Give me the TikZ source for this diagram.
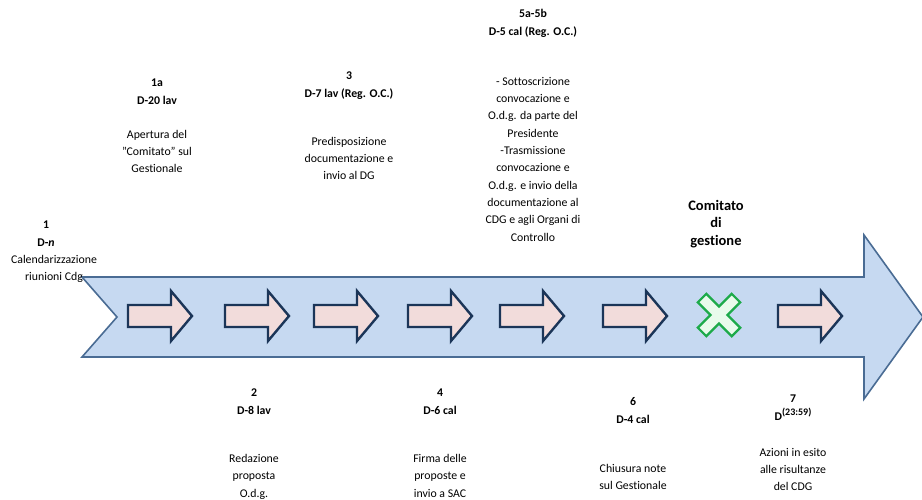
\documentclass[tikz,border=0pt]{standalone}
\usepackage{fontspec}
\setmainfont{Carlito}[Ligatures=NoCommon]
\definecolor{flowfill}{HTML}{C6D9F1}
\definecolor{flowline}{HTML}{4A6C94}
\definecolor{stepfill}{HTML}{F2DCDB}
\definecolor{stepline}{HTML}{1B3558}
\definecolor{crossfill}{HTML}{E9FBEC}
\definecolor{crossline}{HTML}{1DAA4A}
\begin{document}
\begin{tikzpicture}[
    x=1pt, y=-1pt,
    flow/.style={
        draw=flowline,
        fill=flowfill,
        line width=1.6pt,
        line join=miter
    },
    stepshape/.style={
        draw=stepline,
        fill=stepfill,
        line width=2.4pt,
        line join=miter
    },
    donecross/.style={
        draw=crossline,
        fill=crossfill,
        line width=2.2pt
    },
    header/.style={
        font=\fontsize{11.8}{18}\selectfont\bfseries,
        align=center,
        anchor=north,
        inner sep=0pt
    },
    note/.style={
        font=\fontsize{11.8}{17.3}\selectfont,
        align=center,
        anchor=north,
        inner sep=0pt
    },
    meeting/.style={
        font=\fontsize{14.5}{17.5}\selectfont\bfseries,
        align=center,
        anchor=north,
        inner sep=0pt
    }
]
    \useasboundingbox (0,0) rectangle (922,499);

    % timeline
    \draw[flow] (82,277) -- (864,277) -- (864,235) -- (923,317) -- (864,399)
        -- (864,357) -- (82,357) -- (117,317) -- cycle;

    % steps
    \foreach \x in {128,225,314,408,500,603,778} {
        \draw[stepshape, shift={(\x,316)}] (0,-11) -- (43,-11) -- (43,-25)
            -- (64,0) -- (43,25) -- (43,11) -- (0,11) -- cycle;
    }

    % meeting
    \draw[donecross, shift={(719,315)}, rotate=45] (6,6) -- (6,24) -- (-6,24)
        -- (-6,6) -- (-24,6) -- (-24,-6) -- (-6,-6) -- (-6,-24) -- (6,-24)
        -- (6,-6) -- (24,-6) -- (24,6) -- cycle;
    \node[meeting] (cdg) at (716,200) {Comitato\\di\\gestione};

    % labels above
    \node[header] (h1) at (46,221) {1\\D-\textit{n}};
    \node[note] (t1) at (54,255) {Calendarizzazione\\riunioni Cdg};
    \foreach \name/\x/\y/\yy/\head/\text in {
        1a/157/79/130/{1a\\D-20 lav}/{Apertura del\\"Comitato" sul\\Gestionale},
        3/349/72/137/{3\\D-7 lav (Reg. O.C.)}/{Predisposizione\\documentazione e\\invio al DG},
        5/533/9/77/{5a-5b\\D-5 cal (Reg. O.C.)}/{- Sottoscrizione\\convocazione e\\O.d.g. da parte del\\Presidente\\-Trasmissione\\convocazione e\\O.d.g. e invio della\\documentazione al\\CDG e agli Organi di\\Controllo}%
    } {
        \node[header] (h\name) at (\x,\y) {\head};
        \node[note] (t\name) at (\x,\yy) {\text};
    }

    % labels below
    \foreach \name/\x/\y/\yy/\head/\text in {
        2/254/389/454/{2\\D-8 lav}/{Redazione\\proposta\\O.d.g.},
        4/440/389/454/{4\\D-6 cal}/{Firma delle\\proposte e\\invio a SAC},
        6/633/397/464/{6\\D-4 cal}/{Chiusura note\\sul Gestionale},
        7/793/395/448/{7\\D\raisebox{5pt}{\fontsize{10}{10}\selectfont(23:59)}}/{Azioni in esito\\alle risultanze\\del CDG}%
    } {
        \node[header] (h\name) at (\x,\y) {\head};
        \node[note] (t\name) at (\x,\yy) {\text};
    }
\end{tikzpicture}
\end{document}
